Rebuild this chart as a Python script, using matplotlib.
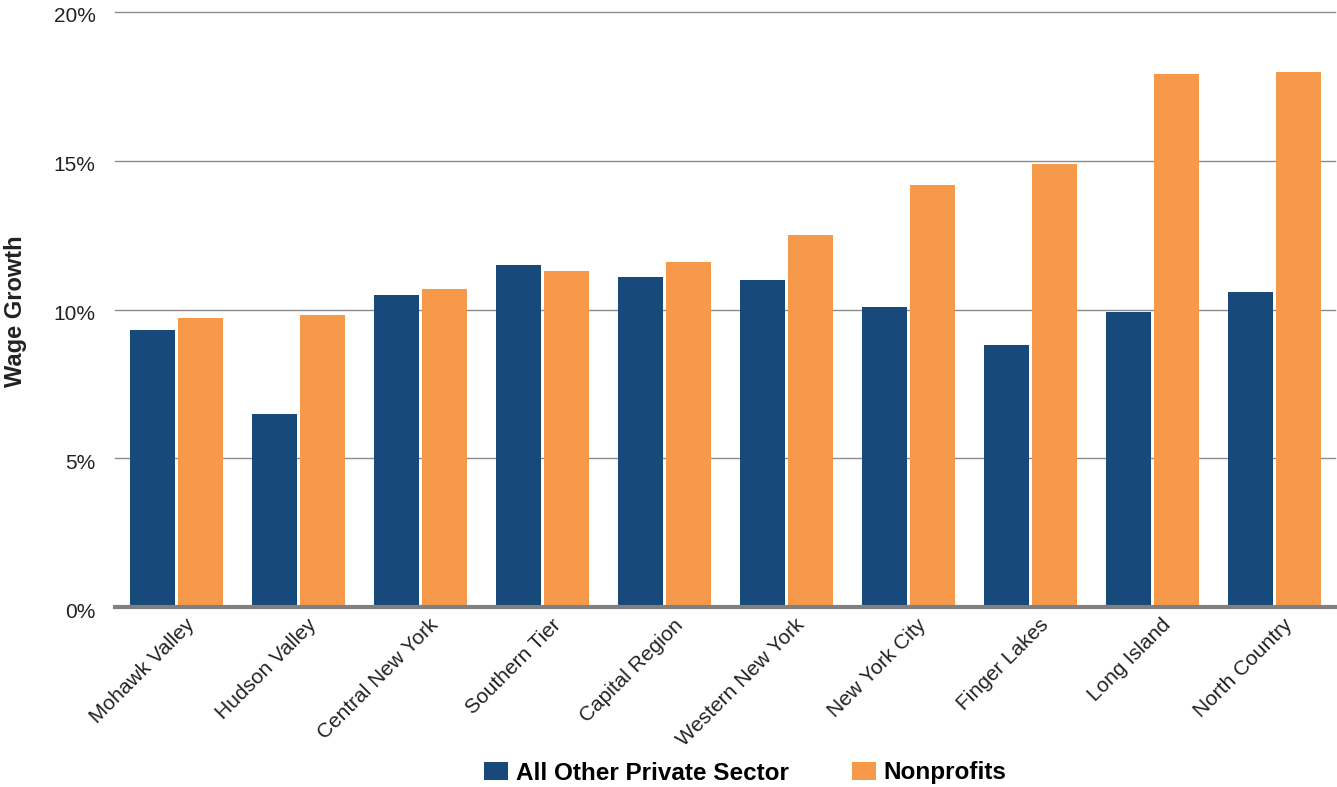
import numpy as np
import matplotlib.pyplot as plt
from matplotlib.transforms import ScaledTranslation

plt.rcParams['font.family'] = ['Liberation Sans', 'DejaVu Sans']

regions = ['Mohawk Valley', 'Hudson Valley', 'Central New York', 'Southern Tier',
           'Capital Region', 'Western New York', 'New York City', 'Finger Lakes',
           'Long Island', 'North Country']
private_sector = [9.3, 6.5, 10.5, 11.5, 11.1, 11.0, 10.1, 8.8, 9.9, 10.6]
nonprofits = [9.7, 9.8, 10.7, 11.3, 11.6, 12.5, 14.2, 14.9, 17.9, 18.0]
yticks = [0, 5, 10, 15, 20]

blue = '#17497b'
orange = '#f7994a'

fig = plt.figure(figsize=(13.37, 7.87), dpi=100)
ax = fig.add_axes([115 / 1337, 180 / 787, 1220 / 1337, 595 / 787])

x = np.arange(len(regions))
w = 0.37
ax.bar(x - 0.195, private_sector, w, color=blue, label='All Other Private Sector', zorder=3)
ax.bar(x + 0.2, nonprofits, w, color=orange, label='Nonprofits', zorder=3)

ax.set_xlim(-0.5, len(regions) - 0.5)
ax.set_ylim(0, 20)

# gridlines
for t in yticks[1:]:
    ax.axhline(t, color='#8c8c8c', lw=1, zorder=1, clip_on=False)
ax.axhline(0, color='#808080', lw=3, zorder=4, clip_on=False)

for s in ax.spines.values():
    s.set_visible(False)

ax.set_yticks(yticks)
ax.set_yticklabels([f'{t}%' for t in yticks], fontsize=15, color='#222222')
ax.tick_params(axis='y', length=0, pad=14)
down = ScaledTranslation(0, -3 / 100, fig.dpi_scale_trans)
for lbl in ax.get_yticklabels():
    lbl.set_transform(lbl.get_transform() + down)

ax.set_xticks(x)
ax.set_xticklabels(regions, rotation=45, ha='right', rotation_mode='anchor',
                   fontsize=15, color='#222222')
ax.tick_params(axis='x', length=0, pad=6)
offset = ScaledTranslation(9 / 100, 0, fig.dpi_scale_trans)
for lbl in ax.get_xticklabels():
    lbl.set_transform(lbl.get_transform() + offset)

fig.text(16 / 1337, 1 - 311 / 787, 'Wage Growth', rotation=90, fontsize=17,
         fontweight='bold', ha='center', va='center', color='#222222')

fig.legend(loc='center', bbox_to_anchor=(745 / 1337, 1 - 773 / 787), ncol=2,
           frameon=False, prop={'size': 17.5, 'weight': 'bold'},
           handlelength=1.0, handleheight=0.7, columnspacing=2.6, handletextpad=0.3)

fig.savefig('out.png', dpi=100)
